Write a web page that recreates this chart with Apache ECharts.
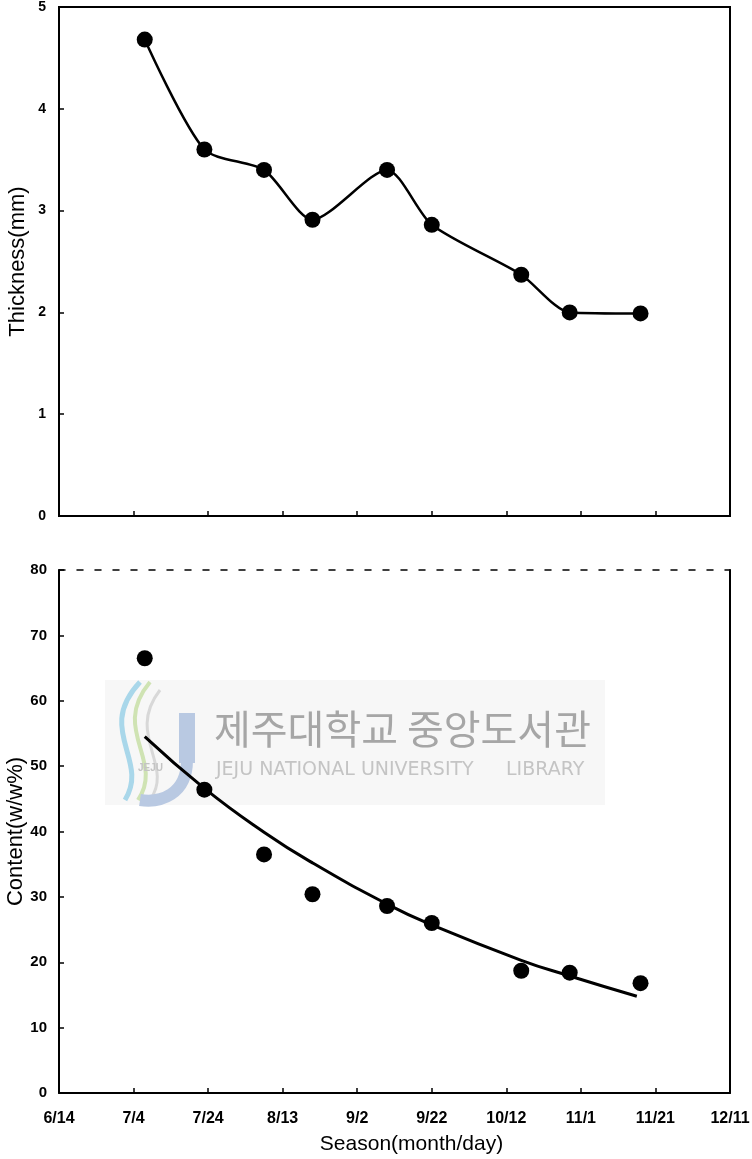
<!DOCTYPE html>
<html><head><meta charset="utf-8">
<script src="https://cdn.jsdelivr.net/npm/echarts@6/dist/echarts.min.js"></script>
<style>html,body{margin:0;padding:0;background:#fff}#c{width:752px;height:1159px}</style>
</head><body><div id="c"></div>
<script>
// ---- data ----
const xTickLabels = ['6/14','7/4','7/24','8/13','9/2','9/22','10/12','11/1','11/21','12/11'];
const sampleDays = [23, 39, 55, 68, 88, 100, 124, 137, 156];      // days after 6/14
const thickness = [4.68, 3.60, 3.40, 2.91, 3.40, 2.86, 2.37, 2.00, 1.99];
const content = [66.5, 46.4, 36.5, 30.4, 28.6, 26.0, 18.7, 18.4, 16.8];
const contentFitDays = [23, 39, 55, 68, 88, 100, 124, 137, 155];
const contentFit = [54.5, 46.6, 39.9, 35.2, 28.9, 25.7, 20.3, 17.9, 14.8];
const thicknessTicks = [0, 1, 2, 3, 4, 5];
const contentTicks = [0, 10, 20, 30, 40, 50, 60, 70, 80];

const FONT = "'Liberation Sans', Arial, sans-serif";
const pairs = (xs, ys) => xs.map((x, i) => [x, ys[i]]);

const chart = echarts.init(document.getElementById('c'), null, {renderer: 'canvas'});
const axisLine = {show: true, onZero: false, lineStyle: {color: '#000', width: 2}};
const tick = {show: true, inside: true, length: 5, lineStyle: {color: '#000', width: 1.5}};

chart.setOption({
  backgroundColor: '#fff',
  animation: false,
  grid: [
    {left: 59, top: 7, width: 671, height: 509, show: true, borderColor: '#000', borderWidth: 2,
     backgroundColor: 'transparent', containLabel: false, outerBoundsMode: 'none'},
    {left: 59, top: 570, width: 671, height: 523, containLabel: false, outerBoundsMode: 'none'}
  ],
  xAxis: [
    {gridIndex: 0, type: 'value', min: 0, max: 180, interval: 20, axisLine, axisTick: tick,
     axisLabel: {show: false}, splitLine: {show: false}},
    {gridIndex: 1, type: 'value', min: 0, max: 180, interval: 20, axisLine, axisTick: tick,
     splitLine: {show: false},
     axisLabel: {show: true, margin: 18, color: '#000', fontFamily: FONT, fontSize: 16, fontWeight: 'bold',
       formatter: v => xTickLabels[Math.round(v / 20)]},
     name: 'Season(month/day)', nameLocation: 'middle', nameGap: 41, nameMoveOverlap: false,
     nameTextStyle: {color: '#000', fontFamily: FONT, fontSize: 21, padding: [0, 0, 0, 34]}},
    {gridIndex: 1, type: 'value', position: 'top', min: 0, max: 180, interval: 20,
     axisLine: {show: true, onZero: false, lineStyle: {color: '#000', width: 1.5, type: [6, 12]}},
     axisTick: {show: false}, axisLabel: {show: false}, splitLine: {show: false}}
  ],
  yAxis: [
    {gridIndex: 0, type: 'value', min: thicknessTicks[0], max: thicknessTicks[thicknessTicks.length - 1], interval: 1,
     axisLine, axisTick: tick, splitLine: {show: false},
     axisLabel: {margin: 13, color: '#000', fontFamily: FONT, fontSize: 14, fontWeight: 'bold'},
     name: 'Thickness(mm)', nameLocation: 'middle', nameGap: 30, nameRotate: 90, nameMoveOverlap: false,
     nameTextStyle: {color: '#000', fontFamily: FONT, fontSize: 22}},
    {gridIndex: 1, type: 'value', min: contentTicks[0], max: contentTicks[contentTicks.length - 1], interval: 10,
     axisLine, axisTick: tick, splitLine: {show: false},
     axisLabel: {margin: 12, color: '#000', fontFamily: FONT, fontSize: 15, fontWeight: 'bold'},
     name: 'Content(w/w%)', nameLocation: 'middle', nameGap: 32, nameRotate: 90, nameMoveOverlap: false,
     nameTextStyle: {color: '#000', fontFamily: FONT, fontSize: 22}},
    {gridIndex: 1, type: 'value', position: 'right', min: 0, max: 80, interval: 10,
     axisLine, axisTick: {show: false}, axisLabel: {show: false}, splitLine: {show: false}}
  ],
  graphic: [
    {type: 'rect', z: -10, shape: {x: 105, y: 680, width: 500, height: 125}, style: {fill: '#f7f7f7'}},
    {type: 'bezierCurve', z: -5, shape: {x1: 140, y1: 682, cpx1: 95, cpy1: 730, cpx2: 150, cpy2: 760, x2: 125, y2: 800},
     style: {stroke: '#a9d7ea', lineWidth: 5, fill: null}},
    {type: 'bezierCurve', z: -5, shape: {x1: 150, y1: 682, cpx1: 110, cpy1: 730, cpx2: 165, cpy2: 760, x2: 138, y2: 800},
     style: {stroke: '#cfe3b3', lineWidth: 4, fill: null}},
    {type: 'bezierCurve', z: -5, shape: {x1: 160, y1: 690, cpx1: 125, cpy1: 735, cpx2: 175, cpy2: 765, x2: 150, y2: 800},
     style: {stroke: '#d8d8d8', lineWidth: 3, fill: null}},
    {type: 'rect', z: -5, shape: {x: 179, y: 713, width: 16, height: 50}, style: {fill: '#b9c9e2'}},
    {type: 'bezierCurve', z: -5, shape: {x1: 187, y1: 760, cpx1: 187, cpy1: 795, cpx2: 160, cpy2: 803, x2: 140, y2: 800},
     style: {stroke: '#b9c9e2', lineWidth: 12, fill: null}},
    {type: 'text', z: -4, left: 138, top: 763, style: {text: 'JEJU', fill: '#c3c3c3', font: "bold 10px 'Liberation Sans'"}},
    {type: 'text', z: -4, left: 214, top: 709, style: {text: '제주대학교 중앙도서관', fill: '#a6a6a6', font: "40px 'Noto Sans CJK KR'"}},
    {type: 'text', z: -4, left: 216, top: 761, style: {text: 'JEJU NATIONAL UNIVERSITY', fill: '#c4c4c4', font: "19px 'DejaVu Sans'"}},
    {type: 'text', z: -4, left: 506, top: 761, style: {text: 'LIBRARY', fill: '#c4c4c4', font: "19px 'DejaVu Sans'"}}
  ],
  series: [
    {type: 'line', xAxisIndex: 0, yAxisIndex: 0, data: pairs(sampleDays, thickness), smooth: 0.25,
     symbol: 'circle', symbolSize: 16, itemStyle: {color: '#000', opacity: 1}, lineStyle: {color: '#000', width: 2.5}, z: 5},
    {type: 'line', xAxisIndex: 1, yAxisIndex: 1, data: pairs(contentFitDays, contentFit), smooth: 0.5,
     symbol: 'none', lineStyle: {color: '#000', width: 3}, z: 4},
    {type: 'scatter', xAxisIndex: 1, yAxisIndex: 1, data: pairs(sampleDays, content),
     symbol: 'circle', symbolSize: 16, itemStyle: {color: '#000', opacity: 1}, z: 5}
  ]
});
</script></body></html>
